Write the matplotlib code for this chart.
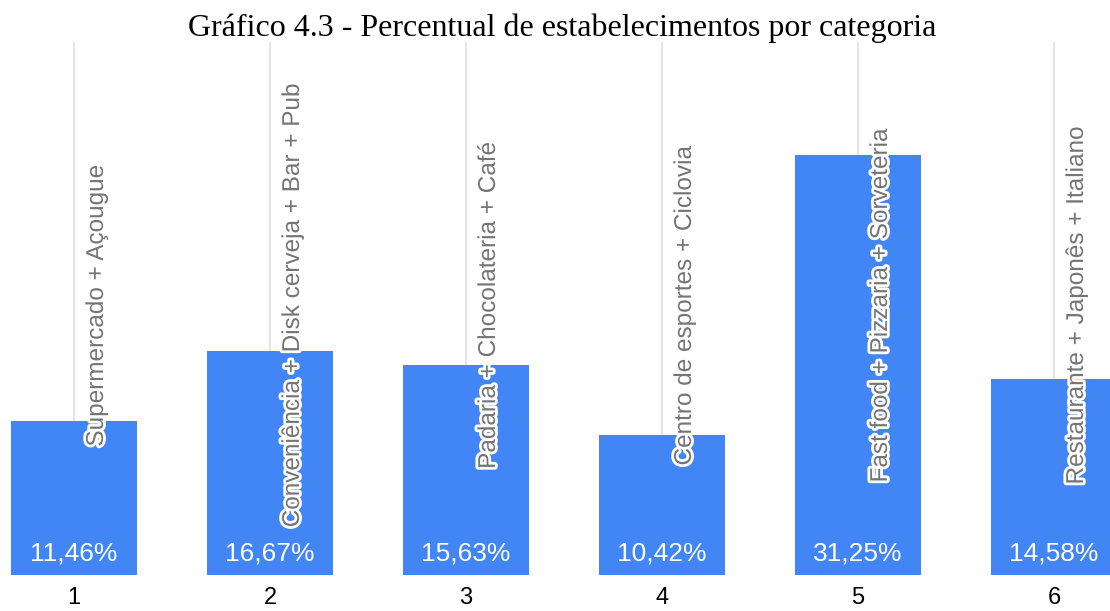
import matplotlib
matplotlib.use("Agg")
import matplotlib.pyplot as plt
import matplotlib.patheffects as pe

categories = ["Supermercado + Açougue",
              "Conveniência + Disk cerveja + Bar + Pub",
              "Padaria + Chocolateria + Café",
              "Centro de esportes + Ciclovia",
              "Fast food + Pizzaria + Sorveteria",
              "Restaurante + Japonês + Italiano"]
values = [11.46, 16.67, 15.63, 10.42, 31.25, 14.58]
value_labels = ["11,46%", "16,67%", "15,63%", "10,42%", "31,25%", "14,58%"]
tick_labels = ["1", "2", "3", "4", "5", "6"]
title = "Gráfico 4.3 - Percentual de estabelecimentos por categoria"

W, H = 1110, 611
fig = plt.figure(figsize=(W / 100, H / 100), dpi=100)
# axes: x from -0.5 to 5.5 mapped to pixel -24..1152 ; y 0 at px 575
left_px, right_px = -24, 1152
bottom_px, top_px = 575, 42
ax = fig.add_axes([left_px / W, (H - bottom_px) / H,
                   (right_px - left_px) / W, (bottom_px - top_px) / H])
ymax = (bottom_px - top_px) / 13.44
ax.set_xlim(-0.5, 5.5)
ax.set_ylim(0, ymax)

x = list(range(len(values)))
for xi in x:
    ax.axvline(xi, color="#e3e3e3", lw=1.3, zorder=0)
ax.bar(x, values, width=0.643, color="#4285F4", zorder=2)

for xi, v, lab, cat in zip(x, values, value_labels, categories):
    ax.text(xi, 1.6, lab, ha="center", va="center", color="white",
            fontsize=19, family="Liberation Sans", zorder=4)
    ax.text(xi + 0.117, 20.0, cat, rotation=90, ha="center", va="center",
            color="#757575", fontsize=17.5, family="Liberation Sans", zorder=5,
            path_effects=[pe.withStroke(linewidth=4, foreground="white")])

for s in ax.spines.values():
    s.set_visible(False)
ax.set_yticks([])
ax.set_xticks(x)
ax.set_xticklabels(tick_labels, fontsize=17, family="Liberation Sans", color="black")
ax.tick_params(axis="x", length=0, pad=9)

fig.text(562 / W, 1 - 28 / H, title, ha="center", va="center",
         fontsize=23, family="Liberation Serif", color="black")

fig.savefig("out.png", dpi=100)
